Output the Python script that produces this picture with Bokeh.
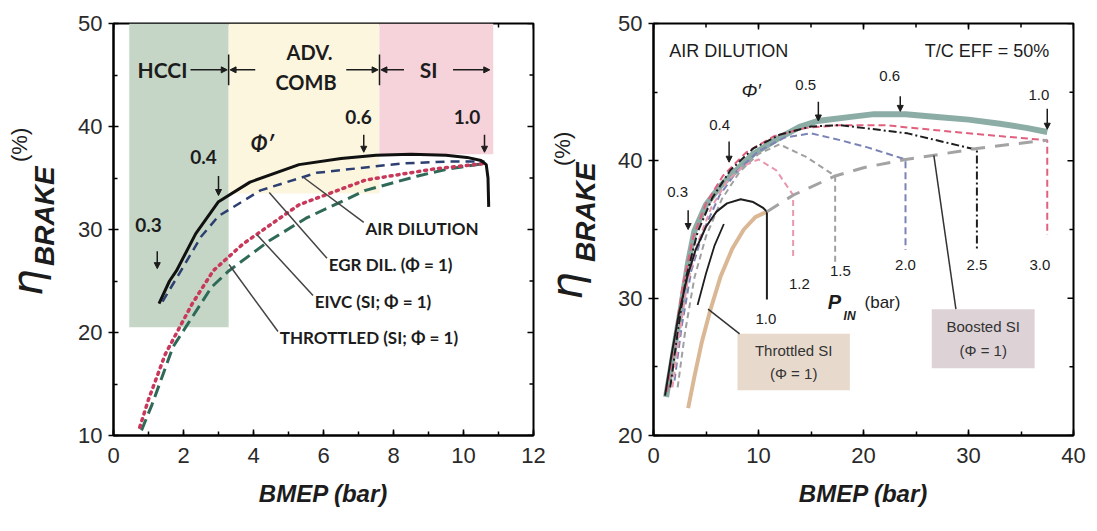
import numpy as np
from bokeh.plotting import figure
from bokeh.layouts import row
from bokeh.models import Label, Arrow, NormalHead, FixedTicker, Div
from bokeh.embed import file_html
from bokeh.resources import INLINE

# ================= LEFT PANEL DATA =================
air_x = [1.3, 1.6, 1.8, 2.35, 3.0, 3.9, 5.3, 6.5, 7.5, 8.5, 9.5, 10.1, 10.5, 10.65, 10.7, 10.72]
air_y = [22.8, 25.0, 26.0, 29.6, 32.7, 34.6, 36.3, 36.9, 37.2, 37.3, 37.2, 37.0, 36.7, 36.3, 35.0, 32.2]
egr_x = [1.4, 2.0, 2.5, 3.0, 4.2, 5.8, 8.2, 9.6, 10.6]
egr_y = [23.0, 26.4, 29.3, 31.3, 33.8, 35.5, 36.4, 36.6, 36.6]
eivc_x = [0.75, 1.0, 1.48, 2.25, 2.85, 3.7, 5.3, 7.2, 9.2, 10.6]
eivc_y = [10.8, 13.5, 17.9, 22.8, 26.0, 28.6, 32.4, 34.8, 35.9, 36.4]
thr_x = [0.8, 1.1, 1.7, 2.8, 3.3, 4.45, 5.5, 7.2, 8.7, 9.6, 10.6]
thr_y = [10.5, 13.0, 18.6, 24.4, 26.0, 28.9, 31.1, 33.8, 35.2, 35.9, 36.4]

regime_left = [0.45, 3.29, 7.6]
regime_right = [3.29, 7.6, 10.85]
regime_bottom = [20.5, 33.5, 37.3]
regime_top = [50, 50, 50]
regime_color = ["#c5d6c6", "#fcf6df", "#f6d2da"]

lphi_lab = ["0.3", "0.4", "0.6", "1.0"]
lphi_lx = [1.0, 2.57, 7.0, 10.1]
lphi_ly = [30.4, 37.0, 40.9, 40.9]
lphi_ax = [1.25, 3.0, 7.15, 10.6]
lphi_a0 = [27.9, 35.2, 39.2, 39.2]
lphi_a1 = [26.2, 33.3, 37.5, 37.5]

lead_txt = ["AIR DILUTION", "EGR DIL. (\u03a6 = 1)", "EIVC (SI; \u03a6 = 1)", "THROTTLED (SI; \u03a6 = 1)"]
lead_cx = [5.45, 4.45, 4.1, 3.3]
lead_cy = [35.0, 33.6, 29.5, 26.6]
lead_tx = [7.2, 6.15, 5.75, 4.75]
lead_ty = [30.1, 26.6, 23.0, 19.5]

# ================= RIGHT PANEL DATA =================
env_x = [1.2, 1.6, 2.0, 2.6, 3.3, 3.9, 5.0, 6.3, 7.6, 9.5, 11.8, 14.0, 15.6, 18.8, 21.0, 24.0, 27.0, 30.0, 33.0, 35.5, 37.5]
env_y = [22.8, 24.6, 26.5, 29.2, 32.6, 34.9, 36.8, 38.1, 39.1, 40.5, 41.6, 42.5, 42.9, 43.2, 43.4, 43.4, 43.2, 43.0, 42.7, 42.4, 42.1]
p10_x = [1.1, 1.7, 2.4, 3.2, 4.0, 5.0, 6.0, 7.0, 8.3, 9.5, 10.4, 10.8, 10.8]
p10_y = [22.9, 25.8, 28.8, 31.5, 33.5, 35.2, 36.3, 36.9, 37.2, 37.0, 36.6, 36.3, 29.9]
p10b_x = [4.2, 5.0, 5.8, 6.7]
p10b_y = [29.5, 31.8, 33.8, 35.4]
p12_x = [1.8, 2.4, 3.2, 4.2, 5.5, 7.0, 8.5, 10.0, 11.7, 13.3, 13.3]
p12_y = [23.5, 27.0, 31.0, 34.0, 36.6, 38.5, 39.6, 40.1, 39.3, 37.5, 32.8]
p15_x = [2.3, 3.0, 3.9, 5.0, 6.5, 8.2, 10.0, 12.0, 14.5, 17.3, 17.3]
p15_y = [23.5, 27.5, 31.5, 34.5, 37.2, 39.2, 40.5, 41.2, 40.3, 38.9, 32.6]
p20_x = [2.0, 2.7, 3.6, 4.8, 6.3, 8.0, 10.0, 12.5, 15.0, 17.8, 20.3, 24.0, 24.0]
p20_y = [24.0, 28.0, 32.0, 35.0, 37.5, 39.3, 40.7, 41.7, 42.0, 41.5, 41.0, 40.1, 33.5]
p25_x = [1.6, 2.3, 3.1, 4.2, 5.6, 7.3, 9.5, 12.0, 15.0, 17.8, 24.2, 30.8, 30.8]
p25_y = [23.5, 27.5, 31.5, 34.8, 37.3, 39.3, 40.9, 41.9, 42.5, 42.6, 42.0, 40.8, 33.5]
p30_x = [1.3, 2.0, 2.8, 3.8, 5.0, 6.6, 8.8, 11.5, 14.5, 17.8, 22.0, 27.3, 33.0, 37.5, 37.5]
p30_y = [23.2, 27.0, 31.0, 34.5, 36.9, 38.9, 40.6, 41.8, 42.4, 42.6, 42.6, 42.2, 41.8, 41.5, 34.6]
tsi_x = [3.3, 3.9, 4.6, 5.4, 6.4, 7.5, 8.6, 9.7, 10.8]
tsi_y = [22.0, 24.3, 26.8, 29.1, 31.6, 33.6, 35.0, 35.9, 36.3]
bsi_x = [10.8, 13.3, 17.3, 20.0, 24.0, 27.5, 30.8, 34.0, 37.5]
bsi_y = [36.3, 37.5, 38.9, 39.5, 40.1, 40.5, 40.9, 41.2, 41.5]

rphi_lab = ["0.3", "0.4", "0.5", "0.6", "1.0"]
rphi_lx = [2.3, 6.3, 14.5, 22.5, 36.7]
rphi_ly = [37.7, 42.6, 45.5, 46.2, 44.8]
rphi_ax = [3.3, 7.2, 15.7, 23.5, 37.5]
rphi_a0 = [36.4, 41.4, 44.3, 44.7, 43.8]
rphi_a1 = [35.0, 39.9, 42.9, 43.6, 42.3]

pin_lab = ["1.0", "1.2", "1.5", "2.0", "2.5", "3.0"]
pin_x = [10.7, 13.9, 17.8, 24.0, 30.8, 36.8]
pin_y = [28.5, 31.0, 32.0, 32.4, 32.4, 32.4]

box_left = [8.0, 26.5]
box_right = [18.7, 36.3]
box_bottom = [23.3, 24.9]
box_top = [27.4, 29.2]
box_color = ["#e7d9cc", "#ddd2d6"]
box_l1 = ["Throttled SI", "Boosted SI"]
box_l2 = ["(\u03a6 = 1)", "(\u03a6 = 1)"]
rlead_x0 = [5.2, 26.7]
rlead_y0 = [29.2, 40.4]
rlead_x1 = [8.2, 28.8]
rlead_y1 = [27.4, 29.2]

INK = "#1c1c1c"


def lab(p, x, y, text, size, style="normal", font="Lato", align="center",
        baseline="middle", angle=0.0, color=INK):
    p.add_layout(Label(x=x, y=y, text=text, text_font=font,
                       text_font_size=f"{size}px", text_font_style=style,
                       text_align=align, text_baseline=baseline, angle=angle,
                       text_color=color))


def arr(p, x0, y0, x1, y1, size=7, lw=1.5, color=INK):
    p.add_layout(Arrow(end=NormalHead(size=size, fill_color=color, line_color=color),
                       x_start=x0, y_start=y0, x_end=x1, y_end=y1,
                       line_width=lw, line_color=color))


def setup(p, xt, xm, yt, ym):
    p.xgrid.visible = False
    p.ygrid.visible = False
    p.outline_line_color = "black"
    p.outline_line_width = 2
    p.background_fill_color = "white"
    p.border_fill_color = "white"
    ax = p.xaxis[0]
    ax.ticker = FixedTicker(ticks=xt, minor_ticks=xm)
    ax.major_tick_in = 6
    ax.major_tick_out = 0
    ax.minor_tick_in = 4
    ax.minor_tick_out = 0
    ax.major_label_standoff = 12
    ax.axis_label = "BMEP (bar)"
    ax.axis_label_text_font = "Liberation Sans"
    ax.axis_label_text_font_style = "bold italic"
    ax.axis_label_text_font_size = "24px"
    ax.axis_label_text_color = INK
    ax.axis_label_standoff = 14
    ay = p.yaxis[0]
    ay.ticker = FixedTicker(ticks=yt, minor_ticks=ym)
    ay.major_tick_in = 5
    ay.major_tick_out = 5
    ay.minor_tick_in = 4
    ay.minor_tick_out = 0
    ay.major_label_standoff = 6
    for a in (ax, ay):
        a.axis_line_width = 2
        a.major_tick_line_width = 1.5
        a.minor_tick_line_width = 1.5
        a.major_label_text_font = "Liberation Sans"
        a.major_label_text_font_size = "22px"
        a.major_label_text_color = "#2a2a2a"
    # mirrored ticks on the top and right frame edges (drawn from the tick lists)
    xtop = max(yt)
    yright = max(xt)
    p.scatter(xt, [xtop] * len(xt), marker="dash", angle=np.pi / 2, size=12,
              line_color="black", line_width=1.5)
    p.scatter(xm, [xtop] * len(xm), marker="dash", angle=np.pi / 2, size=8,
              line_color="black", line_width=1.5)
    p.scatter([yright] * len(yt), yt, marker="dash", size=12,
              line_color="black", line_width=1.5)
    p.scatter([yright] * len(ym), ym, marker="dash", size=8,
              line_color="black", line_width=1.5)


def ylabel_div(width, parts):
    lh = 0.8
    spans = []
    for text, base_x, start_y, fs, family, style, weight in parts:
        left_px = base_x - (lh / 2 + 0.346) * fs
        spans.append(
            f'<span style="position:absolute;left:{left_px:.1f}px;top:{start_y}px;'
            f'transform-origin:0 0;transform:rotate(-90deg);line-height:{lh};'
            f'white-space:nowrap;font-family:\'{family}\';font-size:{fs}px;'
            f'font-style:{style};font-weight:{weight};color:{INK};">{text}</span>')
    html = (f'<div style="position:relative;width:{width}px;height:531px;">'
            + "".join(spans) + '</div>')
    return Div(text=html, width=width, height=531, margin=0,
               styles={"overflow": "visible"})


# ================= LEFT FIGURE =================
left = figure(width=480, height=531, x_range=(0, 12), y_range=(10, 50),
              output_backend="svg", toolbar_location=None,
              min_border_left=45, min_border_right=15,
              min_border_top=23, min_border_bottom=96)
setup(left, [0, 2, 4, 6, 8, 10, 12], list(range(0, 13)),
      [10, 20, 30, 40, 50], [15, 25, 35, 45])

left.quad(left=regime_left, right=regime_right, bottom=regime_bottom,
          top=regime_top, fill_color=regime_color, line_color=None)

left.line(thr_x, thr_y, line_color="#2f6a58", line_width=3, line_dash="12 6")
left.line(eivc_x, eivc_y, line_color="#c8385a", line_width=3.5, line_dash="2 5",
          line_cap="round")
left.line(egr_x, egr_y, line_color="#2c3f70", line_width=2.5, line_dash="9 6")
left.line(air_x, air_y, line_color="#111111", line_width=3)

left.segment(x0=lead_cx, y0=lead_cy, x1=[x - 0.05 for x in lead_tx],
             y1=[y + 0.6 for y in lead_ty], line_color="#444444", line_width=1.5)
for t, x, y in zip(lead_txt, lead_tx, lead_ty):
    lab(left, x, y, t, 17, "bold", align="left")

for t, lx, ly, ax_, a0, a1 in zip(lphi_lab, lphi_lx, lphi_ly, lphi_ax, lphi_a0, lphi_a1):
    lab(left, lx, ly, t, 19, "bold")
    arr(left, ax_, a0, ax_, a1, size=6, lw=1.5)

lab(left, 4.25, 38.4, "\u03a6\u2032", 21, "bold italic")
lab(left, 1.4, 45.5, "HCCI", 21, "bold")
lab(left, 5.6, 47.2, "ADV.", 20, "bold")
lab(left, 5.5, 44.3, "COMB", 20, "bold")
lab(left, 9.0, 45.5, "SI", 21, "bold")
left.segment(x0=[3.29, 7.6], y0=[44.0, 44.0], x1=[3.29, 7.6], y1=[47.0, 47.0],
             line_color=INK, line_width=1.5)
for x0, x1 in [(2.2, 3.25), (4.05, 3.33), (6.65, 7.56), (8.3, 7.64), (9.7, 10.75)]:
    arr(left, x0, 45.5, x1, 45.5, size=6, lw=1.5)

# ================= RIGHT FIGURE =================
right = figure(width=494, height=531, x_range=(0, 40), y_range=(20, 50),
               output_backend="svg", toolbar_location=None,
               min_border_left=50, min_border_right=24,
               min_border_top=22, min_border_bottom=89)
setup(right, [0, 10, 20, 30, 40], list(range(0, 41, 5)),
      [20, 30, 40, 50], [25, 35, 45])

right.quad(left=box_left, right=box_right, bottom=box_bottom, top=box_top,
           fill_color=box_color, line_color=None)

right.line(env_x, env_y, line_color="#7fa39c", line_width=6, line_alpha=0.9)
right.line(tsi_x, tsi_y, line_color="#d6b08a", line_width=4, line_alpha=0.9)
right.line(p30_x, p30_y, line_color="#e0607e", line_width=2, line_dash="7 4")
right.line(p25_x, p25_y, line_color="#1e1e1e", line_width=2, line_dash="8 3 2 3")
right.line(p20_x, p20_y, line_color="#7a82b6", line_width=2, line_dash="7 4")
right.line(p15_x, p15_y, line_color="#a0a0a0", line_width=2, line_dash="6 4")
right.line(p12_x, p12_y, line_color="#e898ad", line_width=2, line_dash="6 4")
right.line(p10b_x, p10b_y, line_color="#1e1e1e", line_width=1.8)
right.line(p10_x, p10_y, line_color="#1e1e1e", line_width=2)
right.line(bsi_x, bsi_y, line_color="#a3a3a3", line_width=3, line_dash="14 10")

right.segment(x0=rlead_x0, y0=rlead_y0, x1=rlead_x1, y1=rlead_y1,
              line_color="#333333", line_width=1.5)

lab(right, 1.5, 48.0, "AIR DILUTION", 18, font="Liberation Sans", align="left")
lab(right, 37.7, 48.0, "T/C EFF = 50%", 18, font="Liberation Sans", align="right")
lab(right, 9.3, 45.1, "\u03a6\u2032", 19, "italic", font="Liberation Sans")
for t, lx, ly, ax_, a0, a1 in zip(rphi_lab, rphi_lx, rphi_ly, rphi_ax, rphi_a0, rphi_a1):
    lab(right, lx, ly, t, 15, font="Liberation Sans")
    arr(right, ax_, a0, ax_, a1, size=6, lw=1.5)
for t, x, y in zip(pin_lab, pin_x, pin_y):
    lab(right, x, y, t, 15, font="Liberation Sans")
lab(right, 16.6, 29.7, "P", 20, "bold italic", font="Liberation Sans", align="left")
lab(right, 18.1, 28.7, "IN", 12, "bold italic", font="Liberation Sans", align="left")
lab(right, 20.1, 29.7, "(bar)", 17, font="Liberation Sans", align="left")
for l, r, b, t, s1, s2 in zip(box_left, box_right, box_bottom, box_top, box_l1, box_l2):
    cx = (l + r) / 2
    lab(right, cx, t - (t - b) * 0.3, s1, 15, font="Liberation Sans", color="#333333")
    lab(right, cx, b + (t - b) * 0.3, s2, 15, font="Liberation Sans", color="#333333")

# ================= Y-AXIS TITLES (eta_BRAKE (%)) =================
ylab_left = ylabel_div(68, [
    ("\u03b7", 42, 296, 42, "DejaVu Sans", "italic", "normal"),
    ("BRAKE", 55, 266, 28, "Liberation Sans", "italic", "bold"),
    ("(%)", 27, 162, 22, "Liberation Sans", "normal", "normal"),
])
ylab_right = ylabel_div(55, [
    ("\u03b7", 34, 300, 44, "DejaVu Sans", "italic", "normal"),
    ("BRAKE", 48, 262, 28, "Liberation Sans", "italic", "bold"),
    ("(%)", 22, 166, 22, "Liberation Sans", "normal", "normal"),
])

layout = row(ylab_left, left, ylab_right, right)
open("out.html", "w").write(file_html(layout, INLINE))
